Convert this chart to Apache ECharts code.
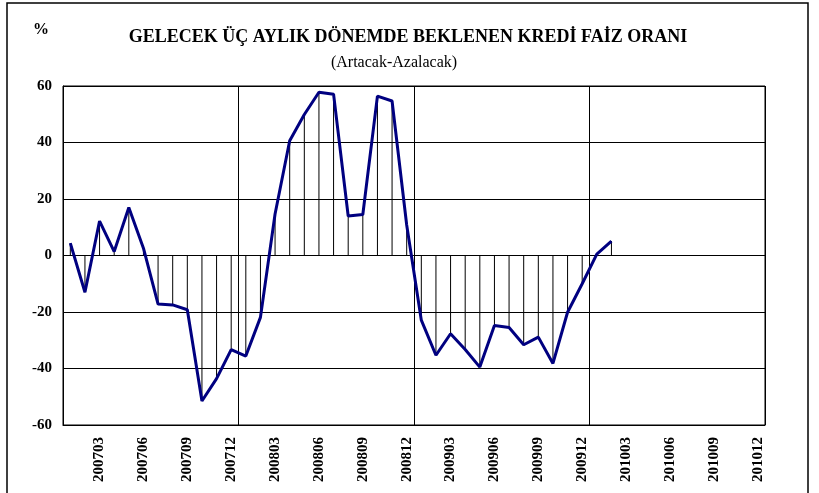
<!DOCTYPE html>
<html>
<head>
<meta charset="utf-8">
<script src="https://cdn.jsdelivr.net/npm/echarts@6/dist/echarts.min.js"></script>
<style>
  html, body { margin: 0; padding: 0; background: #fff; }
  #chart { width: 819px; height: 493px; }
</style>
</head>
<body>
<div id="chart"></div>
<script>
// monthly categories 200701 .. 201012
const months = [];
for (let y = 2007; y <= 2010; y++) {
    for (let m = 1; m <= 12; m++) {
        months.push(String(y) + (m < 10 ? '0' + m : m));
    }
}

// Artacak - Azalacak balance, 200701 .. 201002
const balance = [
    4.4, -13, 12.2, 1.4, 17, 2.6, -17.2, -17.5, -19.2, -51.5, -43.6, -33.3,
    -35.6, -21.9, 14.7, 40.6, 49.9, 57.8, 57.1, 14.0, 14.5, 56.4, 54.7, 10.8,
    -22.9, -35.3, -27.7, -33.3, -39.5, -24.8, -25.5, -31.6, -28.9, -38.2, -20.1, -10.0,
    0.5, 5.1
];

const yTicks = [-60, -40, -20, 0, 20, 40, 60];

const serif = '"Liberation Serif", "Times New Roman", serif';

const chart = echarts.init(document.getElementById('chart'));

chart.setOption({
    animation: false,
    backgroundColor: '#fff',
    title: [
        {
            text: 'GELECEK ÜÇ AYLIK DÖNEMDE BEKLENEN KREDİ FAİZ ORANI',
            left: 408 - 5,
            textAlign: 'center',
            top: 23,
            textStyle: {
                fontFamily: serif,
                fontWeight: 'bold',
                fontSize: 18,
                color: '#000',
            },
        },
        {
            text: '(Artacak-Azalacak)',
            left: 389,
            textAlign: 'center',
            top: 50,
            textStyle: {
                fontFamily: serif,
                fontWeight: 'normal',
                fontSize: 16,
                color: '#000',
            },
        },
    ],
    graphic: [
        {
            type: 'rect',
            shape: { x: 7, y: 3, width: 801, height: 520 },
            style: { fill: 'none', stroke: '#000', lineWidth: 1.5 },
            silent: true,
        },
        {
            type: 'text',
            left: 33,
            top: 22,
            style: {
                text: '%',
                font: 'bold 16px ' + serif,
                fill: '#000',
            },
        },
    ],
    grid: {
        left: 63,
        right: 54,
        top: 86,
        bottom: 68,
        show: true,
        borderColor: '#000',
        borderWidth: 1,
    },
    xAxis: {
        type: 'category',
        data: months,
        boundaryGap: true,
        axisLine: {
            onZero: false,
            lineStyle: { color: '#000' },
        },
        axisTick: { show: false },
        axisLabel: {
            interval: (i) => i % 3 === 2,
            rotate: 90,
            margin: 12,
            color: '#000',
            fontFamily: serif,
            fontWeight: 'bold',
            fontSize: 15,
        },
        splitLine: {
            show: true,
            interval: (i) => i > 0 && i % 12 === 0,
            lineStyle: { color: '#000', width: 1 },
        },
    },
    yAxis: {
        type: 'value',
        min: yTicks[0],
        max: yTicks[yTicks.length - 1],
        interval: 20,
        axisLine: {
            show: true,
            lineStyle: { color: '#000' },
        },
        axisTick: { show: false },
        axisLabel: {
            margin: 11,
            color: '#000',
            fontFamily: serif,
            fontWeight: 'bold',
            fontSize: 15,
        },
        splitLine: {
            lineStyle: { color: '#000', width: 1 },
        },
    },
    series: [
        {
            // drop lines from zero to each point
            type: 'bar',
            data: balance,
            barWidth: 1,
            itemStyle: { color: '#000' },
            z: 1,
        },
        {
            type: 'line',
            data: balance,
            symbol: 'none',
            lineStyle: { color: '#000080', width: 3 },
            z: 2,
        },
    ],
});
</script>
</body>
</html>
